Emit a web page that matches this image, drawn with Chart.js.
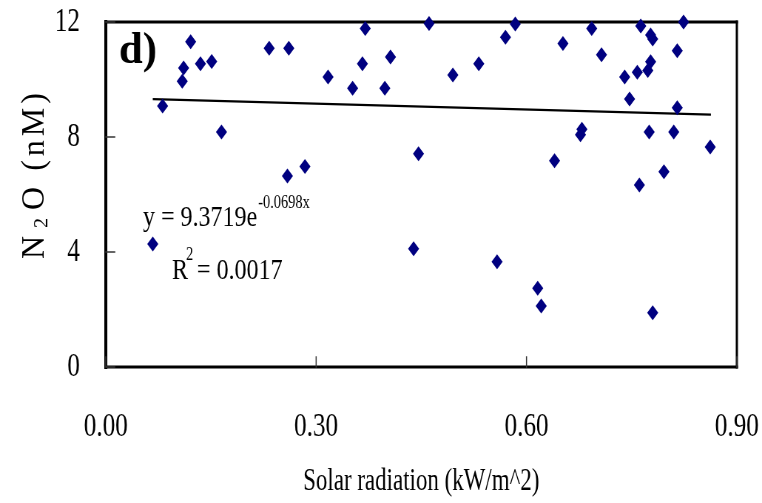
<!DOCTYPE html>
<html>
<head>
<meta charset="utf-8">
<script src="https://cdn.jsdelivr.net/npm/chart.js@4"></script>
<style>
    html, body { margin: 0; padding: 0; background: #fff; overflow: hidden; }
    /* the original figure is squeezed horizontally, so the chart is drawn wide and scaled */
    #wrap { width: 1030px; height: 503px; transform: scaleX(0.7398); transform-origin: 0 0; }
</style>
</head>
<body>
<div id="wrap"><canvas id="chart" width="1030" height="503" style="width:1030px;height:503px"></canvas></div>
<script>
// ---------- Data ----------
const solarRadiation = [
    0.067, 0.081, 0.109, 0.111, 0.121, 0.135, 0.151, 0.165, 0.233, 0.261,
    0.259, 0.284, 0.317, 0.352, 0.366, 0.370, 0.398, 0.406, 0.446, 0.439,
    0.461, 0.495, 0.532, 0.558, 0.570, 0.584, 0.616, 0.621, 0.640, 0.652,
    0.677, 0.679, 0.693, 0.707, 0.740, 0.747, 0.758, 0.761, 0.763, 0.773,
    0.777, 0.777, 0.780, 0.775, 0.780, 0.796, 0.810, 0.815, 0.815, 0.824,
    0.862
];
const n2oValues = [
    4.28, 9.08, 9.94, 10.40, 11.31, 10.55, 10.63, 8.17, 11.09, 11.09,
    6.64, 6.97, 10.09, 9.70, 10.55, 11.77, 9.70, 10.78, 7.42, 4.11,
    11.95, 10.16, 10.55, 3.66, 11.47, 11.93, 2.74, 2.12, 7.17, 11.25,
    8.08, 8.27, 11.77, 10.86, 10.09, 9.32, 10.25, 6.33, 11.86, 10.31,
    10.62, 11.55, 11.41, 8.17, 1.89, 6.79, 8.17, 11.00, 9.02, 12.00,
    7.65
];
// trendline end points as drawn in the figure
const trendX = [0.067, 0.863];
const trendY = [9.32, 8.78];

const xTicks = [0, 0.3, 0.6, 0.9];
const yTicks = [0, 4, 8, 12];

const SQUEEZE = 0.7398;
const SERIF = "'Liberation Serif', 'Times New Roman', serif";

// draw text in screen pixels with its own horizontal scale
function drawText(ctx, text, x, y, font, sx) {
    ctx.save();
    ctx.translate(x, y);
    ctx.scale(sx, 1);
    ctx.font = font;
    ctx.fillText(text, 0, 0);
    const w = ctx.measureText(text).width * sx;
    ctx.restore();
    return w;
}

// labels may hang over the plot edges, don't let them shrink the plot
function noEdgePadding(scale) {
    scale.paddingTop = 0;
    scale.paddingBottom = 0;
    scale.paddingLeft = 0;
    scale.paddingRight = 0;
}

// ---------- Frame, inward ticks and annotations ----------
const framePlugin = {
    id: 'frame',
    beforeDatasetsDraw(chart) {
        const { ctx, chartArea: a, scales: { x, y } } = chart;
        ctx.save();
        ctx.strokeStyle = '#000';
        ctx.lineCap = 'square';

        ctx.lineWidth = 3;
        ctx.beginPath();
        ctx.moveTo(a.left, a.top); ctx.lineTo(a.right, a.top);
        ctx.moveTo(a.left, a.bottom); ctx.lineTo(a.right, a.bottom);
        ctx.stroke();

        ctx.lineWidth = 4;
        ctx.beginPath();
        ctx.moveTo(a.left, a.top); ctx.lineTo(a.left, a.bottom);
        ctx.stroke();

        ctx.lineWidth = 3;
        ctx.beginPath();
        ctx.moveTo(a.right, a.top); ctx.lineTo(a.right, a.bottom);
        ctx.stroke();

        ctx.lineWidth = 1.5;
        ctx.strokeStyle = '#333';
        ctx.beginPath();
        y.ticks.forEach(t => {
            const py = y.getPixelForValue(t.value);
            ctx.moveTo(a.left, py);
            ctx.lineTo(a.left + 12, py);
        });
        x.ticks.forEach(t => {
            const px = x.getPixelForValue(t.value);
            ctx.moveTo(px, a.bottom);
            ctx.lineTo(px, a.bottom - 10);
        });
        ctx.stroke();
        ctx.restore();
    },
    afterDraw(chart) {
        const ctx = chart.ctx;
        ctx.save();
        ctx.scale(1 / SQUEEZE, 1); // back to screen pixels
        ctx.fillStyle = '#000';
        ctx.textBaseline = 'alphabetic';
        ctx.textAlign = 'left';

        // panel letter
        drawText(ctx, 'd)', 119, 63, `bold 45px ${SERIF}`, 0.95);

        // fitted equation
        let w = drawText(ctx, 'y = 9.3719e', 143, 226, `30px ${SERIF}`, 0.8);
        drawText(ctx, '-0.0698x', 143 + w + 1, 208, `18px ${SERIF}`, 0.8);

        w = drawText(ctx, 'R', 172, 279, `30px ${SERIF}`, 0.8);
        drawText(ctx, '2', 172 + w - 2, 260, `18px ${SERIF}`, 0.8);
        drawText(ctx, '= 0.0017', 197, 279, `30px ${SERIF}`, 0.8);

        // y axis title, rotated
        ctx.translate(44, 259);
        ctx.rotate(-Math.PI / 2);
        ctx.letterSpacing = '4px';
        let pos = 0;
        pos += drawText(ctx, 'N', pos, 0, `32px ${SERIF}`, 1) + 4;
        pos += drawText(ctx, '2', pos, 3, `20px ${SERIF}`, 1) + 4;
        drawText(ctx, 'O (nM)', pos, 0, `32px ${SERIF}`, 1);
        ctx.restore();
    }
};

// ---------- Chart ----------
const ctx = document.getElementById('chart').getContext('2d');

new Chart(ctx, {
    type: 'scatter',
    data: {
        datasets: [
            {
                label: 'N2O',
                data: solarRadiation.map((v, i) => ({ x: v, y: n2oValues[i] })),
                pointStyle: 'rectRot',
                pointRadius: 7.5,
                pointBackgroundColor: '#000080',
                pointBorderColor: '#000080',
                pointBorderWidth: 0,
                clip: false,
                order: 1
            },
            {
                label: 'Trend',
                type: 'line',
                data: trendX.map((v, i) => ({ x: v, y: trendY[i] })),
                borderColor: '#000',
                borderWidth: 2.2,
                pointRadius: 0,
                fill: false,
                order: 2
            }
        ]
    },
    options: {
        responsive: false,
        animation: false,
        devicePixelRatio: 1,
        layout: { padding: { top: 22, right: 34, left: 0, bottom: 0 } },
        plugins: {
            legend: { display: false },
            tooltip: { enabled: false }
        },
        scales: {
            x: {
                type: 'linear',
                min: 0,
                max: 0.9,
                afterBuildTicks: scale => { scale.ticks = xTicks.map(v => ({ value: v })); },
                afterFit: scale => { scale.height = 136; noEdgePadding(scale); },
                grid: { display: false, drawTicks: false },
                border: { display: false },
                ticks: {
                    padding: 40,
                    color: '#000',
                    maxRotation: 0,
                    autoSkip: false,
                    font: { family: SERIF, size: 34 },
                    callback: v => Number(v).toFixed(2)
                },
                title: {
                    display: true,
                    text: 'Solar radiation (kW/m^2)',
                    color: '#000',
                    font: { family: SERIF, size: 31, lineHeight: 1.2 },
                    padding: { top: 0, bottom: 3 }
                }
            },
            y: {
                min: 0,
                max: 12,
                afterBuildTicks: scale => { scale.ticks = yTicks.map(v => ({ value: v })); },
                afterFit: scale => { scale.width = 143; noEdgePadding(scale); },
                grid: { display: false, drawTicks: false },
                border: { display: false },
                ticks: {
                    padding: 35,
                    color: '#000',
                    font: { family: SERIF, size: 34 },
                    callback: v => String(v)
                }
            }
        }
    },
    plugins: [framePlugin]
});
</script>
</body>
</html>
